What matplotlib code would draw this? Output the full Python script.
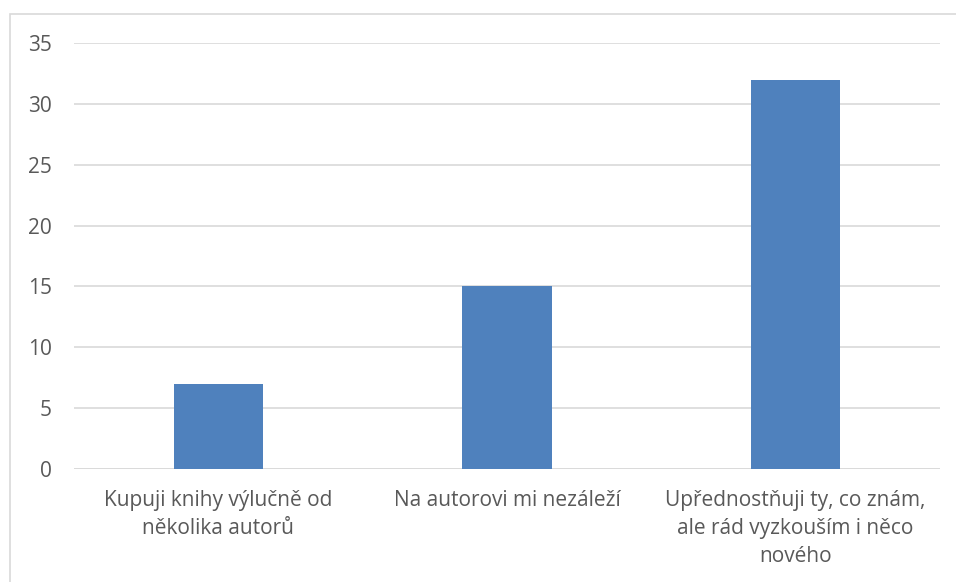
import matplotlib.pyplot as plt
from matplotlib.patches import Rectangle

categories = ["Kupuji knihy výlučně od\nněkolika autorů",
              "Na autorovi mi nezáleží",
              "Upřednostňuji ty, co znám,\nale rád vyzkouším i něco\nnového"]
values = [7, 15, 32]
yticks = [0, 5, 10, 15, 20, 25, 30, 35]

plt.rcParams['font.family'] = ['Open Sans', 'DejaVu Sans']

W, H = 956, 582
fig = plt.figure(figsize=(W / 100, H / 100), dpi=100)
ax = fig.add_axes([74 / W, (H - 469) / H, 866 / W, 426 / H])

# chart frame
fig.patches.append(Rectangle((10 / W, -0.1), 1.2, (H - 14) / H + 0.1,
                             transform=fig.transFigure, fill=False,
                             edgecolor='#D9D9D9', linewidth=1.2))

x = range(len(categories))
ax.bar(x, values, width=0.31, color='#4F81BD', zorder=3)

ax.set_xlim(-0.5, 2.5)
ax.set_ylim(0, 35)
ax.set_yticks(yticks)
ax.yaxis.grid(True, color='#D9D9D9', linewidth=1.2, zorder=0)
for s in ax.spines.values():
    s.set_visible(False)
ax.axhline(0, color='#D9D9D9', linewidth=1.2, zorder=1)

ax.set_xticks(list(x))
ax.set_xticklabels(categories, linespacing=1.44)
ax.tick_params(axis='both', length=0, labelsize=15, colors='#595959')
ax.tick_params(axis='y', pad=16)
ax.tick_params(axis='x', pad=15)

fig.savefig('out.png', dpi=100)
